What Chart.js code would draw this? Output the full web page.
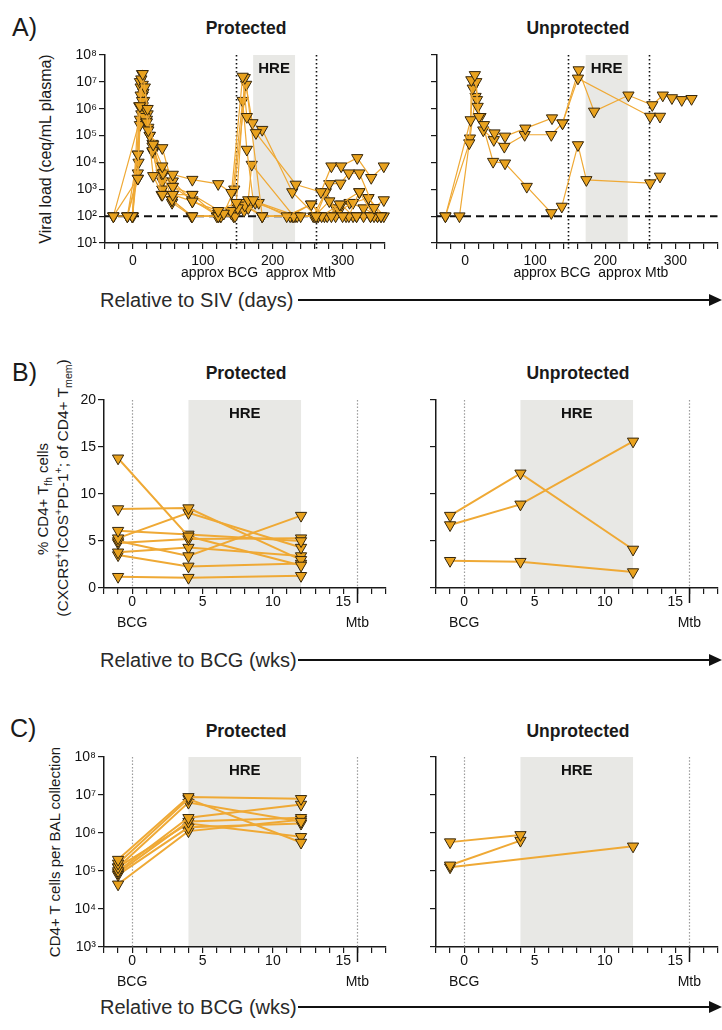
<!DOCTYPE html>
<html>
<head>
<meta charset="utf-8">
<script src="https://cdn.jsdelivr.net/npm/chart.js@4"></script>
<style>
  body { margin: 0; width: 722px; height: 1030px; position: relative; overflow: hidden; background: #fff;
         font-family: "Liberation Sans", Arial, sans-serif; color: #1a1a1a; }
  canvas { position: absolute; }
  .t { position: absolute; white-space: nowrap; transform: translate(-50%, -50%); }
  .title { font-weight: bold; font-size: 17.5px; }
  .letter { position: absolute; font-size: 25px; transform: translateY(-50%); }
  .ytitle { position: absolute; white-space: nowrap; font-size: 15px; line-height: 1; transform: translate(-50%, -50%) rotate(-90deg); }
  .ytitle sub, .ytitle sup { font-size: 0.68em; line-height: 0; }
  .arrow-text { position: absolute; left: 100px; font-size: 20px; transform: translateY(-50%); color: #2a2a2a; }
  .arrow-line { position: absolute; left: 298px; width: 412px; height: 2px; background: #111; }
  .arrow-head { position: absolute; left: 709px; width: 0; height: 0; border-top: 6.5px solid transparent;
                border-bottom: 6.5px solid transparent; border-left: 13px solid #111; }
</style>
</head>
<body>
<div class="letter" style="left:12px;top:27px">A)</div>
<div class="letter" style="left:12px;top:372px">B)</div>
<div class="letter" style="left:10px;top:728px">C)</div>

<div class="t title" style="left:246px;top:28px">Protected</div>
<div class="t title" style="left:578px;top:28px">Unprotected</div>
<div class="t title" style="left:246px;top:373px">Protected</div>
<div class="t title" style="left:578px;top:373px">Unprotected</div>
<div class="t title" style="left:246px;top:731px">Protected</div>
<div class="t title" style="left:578px;top:731px">Unprotected</div>

<div class="ytitle" style="left:46px;top:149px;font-size:16px">Viral load (ceq/mL plasma)</div>
<div class="ytitle" style="left:42px;top:499px">% CD4+ T<sub>fh</sub> cells</div>
<div class="ytitle" style="left:63px;top:488px;font-size:15.5px">(CXCR5<sup>+</sup>ICOS<sup>+</sup>PD-1<sup>+</sup>; of CD4+ T<sub>mem</sub>)</div>
<div class="ytitle" style="left:54px;top:852px">CD4+ T cells per BAL collection</div>

<div class="arrow-text" style="top:300px">Relative to SIV (days)</div>
<div class="arrow-line" style="top:299px"></div>
<div class="arrow-head" style="top:293.5px"></div>
<div class="arrow-text" style="top:660px">Relative to BCG (wks)</div>
<div class="arrow-line" style="top:659px"></div>
<div class="arrow-head" style="top:653.5px"></div>
<div class="arrow-text" style="top:1007px">Relative to BCG (wks)</div>
<div class="arrow-line" style="top:1006px"></div>
<div class="arrow-head" style="top:1000.5px"></div>

<script>
// ---------- data ----------
// A) viral load, log10 ceq/mL plasma, days relative to SIV (one row per animal)
const aProtDays = [
  [-28, 7, 10, 14, 21, 29, 42, 57, 85, 122, 141, 157, 163, 176, 233, 269, 284, 298, 321, 341, 359],
  [-8, 7, 12, 17, 22, 29, 42, 57, 85, 122, 148, 160, 171, 185, 228, 262, 281, 297, 309, 324, 345, 359],
  [-1, 10, 13, 18, 24, 42, 57, 85, 130, 145, 162, 185, 240, 260, 281, 300, 320, 340],
  [-28, 0, 11, 15, 20, 28, 43, 56, 85, 122, 140, 157, 163, 172, 220, 255, 270, 296, 324, 337, 355],
  [-8, 7, 9, 12, 16, 24, 41, 56, 84, 126, 150, 165, 170, 230, 265, 284, 309, 324, 345],
  [-1, 8, 10, 14, 19, 28, 42, 57, 85, 120, 146, 160, 180, 235, 262, 278, 298, 315, 330, 350],
  [-28, 10, 14, 17, 22, 29, 41, 57, 85, 122, 143, 158, 185, 232, 265, 290, 305, 320, 340, 355],
  [-8, 7, 13, 16, 21, 28, 42, 56, 84, 125, 141, 165, 185, 225, 255, 274, 295, 315, 337, 359],
  [-1, 7, 11, 14, 20, 28, 42, 57, 85, 122, 144, 159, 175, 228, 258, 276, 290, 310, 330, 350]
];
const aProtLog = [
  [2, 3.4, 6.1, 7.3, 6.0, 4.67, 3.86, 3.55, 3.36, 3.2, 2.87, 7.2, 5.7, 5.1, 3.18, 2.9, 3.86, 3.86, 4.17, 3.43, 3.86],
  [2, 4.3, 7.1, 6.8, 5.2, 3.5, 2.8, 2.8, 2.55, 2.2, 2.5, 7.15, 5.47, 5.22, 2.9, 2, 3.2, 3.22, 3.6, 3.6, 2.31, 2.6],
  [2, 7.0, 6.3, 6.0, 5.0, 4.54, 3.1, 2.8, 2.1, 3.0, 6.9, 2, 2, 2, 2.56, 2, 2, 2],
  [2, 2, 6.5, 6.6, 5.5, 4.43, 3.6, 2.6, 2, 2, 2.2, 6.3, 4.48, 2.6, 2, 2.44, 2, 2.44, 2.9, 2.68, 2],
  [2, 3.4, 6.1, 5.8, 5.7, 5.0, 2.8, 2.6, 2, 2, 2.3, 2.6, 3.92, 2, 2, 2, 2, 2.9, 2],
  [2, 4.0, 5.4, 6.9, 5.5, 4.4, 3.0, 2.8, 2.8, 2, 2, 2.4, 2.5, 2, 2, 2, 2.44, 2, 2, 2],
  [2, 5.6, 6.5, 6.0, 5.3, 4.4, 3.6, 3.1, 2.6, 2, 2.2, 2.5, 2, 2, 2, 2, 2, 2, 2, 2],
  [2, 3.6, 7.3, 6.3, 5.8, 4.6, 3.3, 2.5, 2, 2, 2.1, 2.3, 2, 2, 2.44, 2, 2.2, 2.5, 2.68, 2],
  [2, 4.3, 6.8, 6.1, 5.6, 4.7, 3.5, 3.3, 2.55, 2.1, 2, 2.2, 2.5, 2, 2, 2.9, 2.3, 2.5, 2.3, 2]
];
const aUnprotDays = [
  [-28, 8, 9, 14, 20, 27, 42, 57, 86, 124, 139, 161, 264, 278],
  [-28, 6, 11, 16, 18, 26, 41, 56, 85, 123, 139, 162, 184, 233, 267, 282, 295, 309, 323],
  [-8, 7, 15, 17, 22, 40, 57, 88, 123, 138, 161, 173, 264, 278]
];
const aUnprotLog = [
  [2, 5.58, 7.07, 7.26, 5.7, 5.4, 5.09, 4.97, 5.27, 5.65, 5.46, 7.13, 5.71, 5.71],
  [2, 4.72, 6.76, 7.0, 6.08, 5.2, 4.84, 4.59, 5.03, 5.03, 5.46, 7.44, 5.9, 6.5, 6.14, 6.5, 6.4, 6.33, 6.37],
  [2, 4.9, 6.45, 6.33, 5.7, 4.03, 3.97, 3.1, 2.12, 2.36, 4.65, 3.35, 3.23, 3.48]
];
const aXLabels = [0, 100, 200, 300];
const aYExp = [1, 2, 3, 4, 5, 6, 7, 8];

// B) % CD4+ Tfh, weeks relative to BCG
const bWeeks = [-1, 4, 12];
const bProt = [
  [13.8, 5.5, 2.4], [8.4, 8.5, 3.0], [6.1, 5.7, 5.0], [5.3, 8.0, 4.3], [5.0, 3.4, 7.7],
  [4.8, 5.2, 5.3], [3.8, 4.3, 3.4], [3.5, 2.3, 2.6], [1.2, 1.1, 1.3]
];
const bUnprot = [[7.7, 12.2, 4.1], [6.7, 8.9, 15.6], [2.9, 2.8, 1.7]];
const bYTicks = [0, 5, 10, 15, 20];
const wkLabels = [0, 5, 10, 15];

// C) CD4+ T cells per BAL collection, log10
const cProtLog = [
  [5.3, 6.95, 6.9], [5.2, 6.9, 5.75], [5.1, 6.8, 6.3], [5.0, 6.4, 6.75],
  [4.95, 6.3, 6.4], [4.9, 6.15, 6.25], [4.65, 6.05, 6.35], [5.1, 6.25, 5.9]
];
const cUnprotWeeks = [[-1, 4], [-1, 4], [-1, 12]];
const cUnprotLog = [[5.76, 5.95], [5.15, 5.8], [5.1, 5.65]];
const cYExp = [3, 4, 5, 6, 7, 8];

// ---------- styling ----------
const FILL = '#e9a21e', EDGE = '#35260c', LINE = '#efa935';
const FONT = '"Liberation Sans", Arial, sans-serif';
const INK = '#1a1a1a';
const PAD_L = 62, PAD_T = 20, PAD_R = 6, PAD_B = 52;

const sup = n => String(n).split('').map(d => '⁰¹²³⁴⁵⁶⁷⁸⁹'[d]).join('');

function series(xs, ys, isLog, lw) {
  return ys.map((row, i) => ({
    data: row.map((v, j) => ({ x: Array.isArray(xs[0]) ? xs[i][j] : xs[j], y: isLog ? Math.pow(10, v) : v })),
    showLine: true, borderColor: LINE, borderWidth: lw, tension: 0,
    pointStyle: 'triangle', rotation: 180, pointRadius: 6.5,
    pointBackgroundColor: FILL, pointBorderColor: EDGE, pointBorderWidth: 1, clip: false
  }));
}

const axisLook = () => ({
  border: { display: true, color: INK, width: 1.5 },
  grid: { drawOnChartArea: false, drawTicks: true, tickLength: 6, color: INK, lineWidth: 1.2 }
});

function xAxis(min, max, step, labels, pad) {
  return Object.assign(axisLook(), {
    type: 'linear', position: 'bottom', min, max,
    ticks: { stepSize: step, autoSkip: false, maxRotation: 0, padding: pad, color: '#111',
             font: { family: FONT, size: 14 }, callback: v => labels.includes(v) ? String(v) : '' },
    afterFit: s => { s.height = PAD_B; }
  });
}

function yLog(exps, show) {
  return Object.assign(axisLook(), {
    type: 'logarithmic', min: Math.pow(10, exps[0]), max: Math.pow(10, exps[exps.length - 1]),
    afterBuildTicks: s => { s.ticks = exps.map(e => ({ value: Math.pow(10, e) })); },
    ticks: { padding: 2, color: '#111', font: { family: FONT, size: 14 },
             callback: v => show ? '10' + sup(Math.round(Math.log10(v))) : '' },
    afterFit: s => { s.width = PAD_L; }
  });
}

function yLin(ticks, show) {
  return Object.assign(axisLook(), {
    type: 'linear', min: ticks[0], max: ticks[ticks.length - 1],
    afterBuildTicks: s => { s.ticks = ticks.map(v => ({ value: v })); },
    ticks: { padding: 2, color: '#111', font: { family: FONT, size: 14 }, callback: v => show ? String(v) : '' },
    afterFit: s => { s.width = PAD_L; }
  });
}

// band, dotted event lines, LOD line and the event labels under the axis
const decor = {
  id: 'decor',
  beforeDraw(chart, _a, o) {
    const { ctx, chartArea: a, scales: { x } } = chart;
    const x0 = x.getPixelForValue(o.band[0]), x1 = x.getPixelForValue(o.band[1]);
    ctx.save();
    ctx.fillStyle = '#e8e8e5';
    ctx.fillRect(x0, a.top, x1 - x0, a.bottom - a.top - 1);
    ctx.restore();
  },
  beforeDatasetsDraw(chart, _a, o) {
    const { ctx, chartArea: a, scales: { x, y } } = chart;
    ctx.save();
    ctx.font = `bold 15px ${FONT}`;
    ctx.fillStyle = '#111';
    ctx.textAlign = 'center';
    ctx.textBaseline = 'middle';
    ctx.fillText('HRE', (x.getPixelForValue(o.band[0]) + x.getPixelForValue(o.band[1])) / 2, a.top + 14);
    const black = o.style === 'black';
    ctx.strokeStyle = black ? '#111' : '#9b9b9b';
    ctx.lineWidth = black ? 1.6 : 1.2;
    ctx.setLineDash(black ? [1.6, 2.4] : [1.5, 1.8]);
    o.vlines.forEach(v => {
      const px = Math.round(x.getPixelForValue(v)) + 0.5;
      ctx.beginPath();
      ctx.moveTo(px, a.top);
      ctx.lineTo(px, a.bottom + (black ? 7 : 0));
      ctx.stroke();
    });
    if (o.lod) {
      const py = y.getPixelForValue(o.lod);
      ctx.strokeStyle = '#111';
      ctx.lineWidth = 2;
      ctx.setLineDash([8, 5]);
      ctx.beginPath();
      ctx.moveTo(a.left, py);
      ctx.lineTo(a.right, py);
      ctx.stroke();
    }
    ctx.restore();
  },
  afterDraw(chart, _a, o) {
    const { ctx, chartArea: a, scales: { x } } = chart;
    ctx.save();
    if (o.mtbTick !== undefined) {
      const px = Math.round(x.getPixelForValue(o.mtbTick)) + 0.5;
      ctx.strokeStyle = '#111';
      ctx.lineWidth = 1.5;
      ctx.beginPath();
      ctx.moveTo(px, a.bottom);
      ctx.lineTo(px, a.bottom + 15);
      ctx.stroke();
    }
    ctx.font = `14px ${FONT}`;
    ctx.fillStyle = '#111';
    ctx.textAlign = 'center';
    ctx.textBaseline = 'middle';
    o.labels.forEach(([txt, v]) => ctx.fillText(txt, x.getPixelForValue(v), a.bottom + o.labelDy));
    ctx.restore();
  }
};

function makeChart(left, top, w, h, datasets, xScale, yScale, decorOpts) {
  const c = document.createElement('canvas');
  c.width = w + PAD_L + PAD_R;
  c.height = h + PAD_T + PAD_B;
  c.style.left = (left - PAD_L) + 'px';
  c.style.top = (top - PAD_T) + 'px';
  document.body.appendChild(c);
  return new Chart(c.getContext('2d'), {
    type: 'scatter',
    data: { datasets },
    options: {
      responsive: false, animation: false, devicePixelRatio: 1, events: [],
      layout: { padding: { top: PAD_T, right: PAD_R, bottom: 0, left: 0 } },
      scales: { x: xScale, y: yScale },
      plugins: { legend: { display: false }, tooltip: { enabled: false }, decor: decorOpts }
    },
    plugins: [decor]
  });
}

const aDecor = { band: [172, 232], vlines: [147, 262], style: 'black', lod: 100,
                 labels: [['approx BCG', 124], ['approx Mtb', 240]], labelDy: 30 };
const wDecor = { band: [4, 12], vlines: [0, 16], style: 'grey', mtbTick: 16,
                 labels: [['BCG', 0], ['Mtb', 16]], labelDy: 35 };

makeChart(105, 55, 281, 188, series(aProtDays, aProtLog, true, 1.2),
  xAxis(-40, 360, 20, aXLabels, 4), yLog(aYExp, true), aDecor);
makeChart(437, 55, 282, 188, series(aUnprotDays, aUnprotLog, true, 1.2),
  xAxis(-40, 360, 20, aXLabels, 4), yLog(aYExp, false), aDecor);

makeChart(104, 400, 283, 188, series(bWeeks, bProt, false, 2),
  xAxis(-2, 18, 1, wkLabels, 0), yLin(bYTicks, true), wDecor);
makeChart(436, 400, 283, 188, series(bWeeks, bUnprot, false, 2),
  xAxis(-2, 18, 1, wkLabels, 0), yLin(bYTicks, false), wDecor);

makeChart(104, 757, 283, 190, series(bWeeks, cProtLog, true, 2),
  xAxis(-2, 18, 1, wkLabels, 0), yLog(cYExp, true), wDecor);
makeChart(436, 757, 283, 190, series(cUnprotWeeks, cUnprotLog, true, 2),
  xAxis(-2, 18, 1, wkLabels, 0), yLog(cYExp, false), wDecor);
</script>
</body>
</html>
